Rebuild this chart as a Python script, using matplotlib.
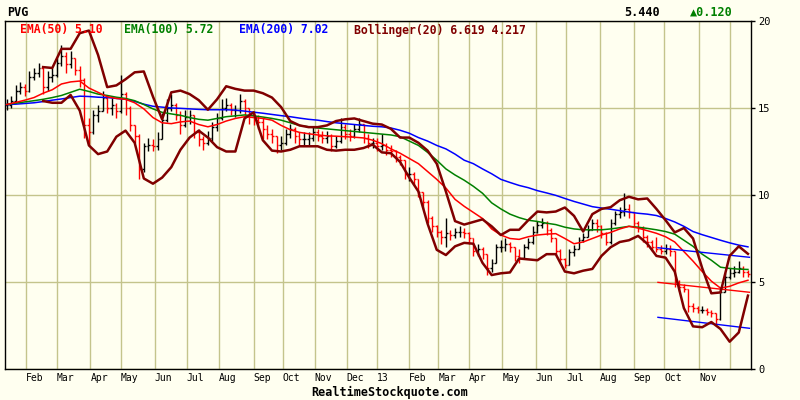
"""
PVG price bars Jan 2012 - Dec 2013 with EMA(50/100/200), Bollinger(20)
and a regression channel over the last quarter.
"""
import numpy as np
import pandas as pd
import matplotlib
matplotlib.use("Agg")
import matplotlib.pyplot as plt

# ── Data ───────────────────────────────────────────────────────────────────────
symbol = "PVG"
last_price = 5.44
price_change = 0.12

market_holidays = [
    "2012-01-16", "2012-02-20", "2012-04-06", "2012-05-28", "2012-07-04",
    "2012-09-03", "2012-10-29", "2012-10-30", "2012-11-22", "2012-12-25",
    "2013-01-01", "2013-01-21", "2013-02-18", "2013-03-29", "2013-05-27",
    "2013-07-04", "2013-09-02", "2013-11-28",
]
sessions = pd.bdate_range("2012-01-12", "2013-12-19", freq="C",
                          holidays=market_holidays)

# one bar per three sessions
bar_close = [
    15.2, 15.4, 16.0, 16.2, 16.0, 16.8, 17.0, 17.3, 16.2, 16.8,
    16.9, 17.6, 18.0, 17.5, 17.9, 17.2, 16.6, 14.0, 13.6, 14.6,
    14.8, 15.6, 15.0, 15.2, 14.8, 15.8, 15.0, 14.0, 13.4, 11.5,
    12.8, 12.9, 12.8, 13.2, 14.3, 15.0, 15.2, 14.6, 14.0, 14.5,
    14.6, 13.6, 13.2, 13.0, 13.3, 13.9, 14.4, 15.0, 15.2, 14.9,
    14.9, 15.4, 15.0, 14.6, 14.3, 14.2, 13.8, 13.5, 13.4, 12.9,
    13.0, 13.5, 13.8, 13.4, 13.2, 13.2, 13.3, 13.6, 13.4, 13.3,
    13.4, 12.8, 13.1, 13.9, 13.5, 13.4, 13.8, 14.1, 13.3, 13.0,
    13.0, 12.8, 12.9, 12.6, 12.5, 12.2, 12.0, 11.2, 11.2, 10.9,
    10.2, 9.6, 8.7, 8.2, 7.9, 7.6, 7.8, 7.7, 7.9, 7.9,
    7.8, 7.5, 6.8, 6.9, 6.6, 5.8, 6.1, 7.0, 7.0, 7.2,
    7.0, 6.5, 6.4, 7.0, 7.3, 7.9, 8.3, 8.4, 8.0, 7.5,
    6.8, 6.3, 6.0, 6.7, 6.9, 7.4, 7.6, 8.0, 8.4, 8.2,
    7.8, 7.3, 8.4, 8.9, 9.0, 9.2, 9.0, 8.4, 8.1, 7.6,
    7.3, 7.0, 6.9, 6.8, 6.9, 6.8, 5.0, 4.7, 4.6, 3.6,
    3.5, 3.4, 3.4, 3.3, 3.2, 2.9, 4.4, 5.3, 5.5, 5.6,
    5.8, 5.6, 5.44,
]
bar_high = [
    15.5, 15.7, 16.3, 16.5, 16.4, 17.1, 17.3, 17.6, 17.4, 17.1,
    17.3, 17.9, 18.6, 18.2, 18.3, 17.9, 17.4, 16.7, 14.4, 14.9,
    15.2, 16.0, 15.7, 15.6, 15.3, 16.9, 15.9, 15.1, 14.0, 13.5,
    13.0, 13.3, 13.2, 13.6, 14.7, 15.5, 15.8, 15.3, 14.8, 14.9,
    14.9, 14.6, 13.8, 13.4, 13.7, 14.2, 14.7, 15.5, 15.6, 15.3,
    15.2, 15.8, 15.5, 15.0, 14.8, 14.6, 14.4, 14.0, 13.8, 13.4,
    13.4, 13.8, 14.1, 13.9, 13.6, 13.6, 13.6, 13.9, 13.8, 13.7,
    13.7, 13.5, 13.4, 14.4, 14.1, 13.8, 14.1, 14.4, 14.1, 13.5,
    13.3, 13.3, 13.5, 13.0, 12.9, 12.6, 12.3, 12.0, 11.6, 11.3,
    10.9, 10.2, 9.7, 8.8, 8.3, 8.0, 8.7, 8.0, 8.1, 8.2,
    8.1, 7.9, 7.5, 7.2, 7.0, 6.6, 6.3, 7.2, 7.4, 7.5,
    7.3, 7.0, 6.9, 7.2, 7.5, 8.2, 8.5, 8.7, 8.5, 8.1,
    7.5, 6.9, 6.4, 6.9, 7.1, 7.6, 7.8, 8.3, 8.6, 8.6,
    8.3, 7.9, 8.6, 9.1, 9.3, 10.1, 9.5, 9.0, 8.5, 8.2,
    7.7, 7.4, 7.6, 7.1, 7.2, 7.1, 6.8, 5.1, 4.9, 4.6,
    3.8, 3.6, 3.6, 3.5, 3.4, 3.2, 4.7, 5.5, 5.8, 5.9,
    6.2, 5.9, 5.7,
]
bar_low = [
    14.9, 15.0, 15.3, 15.8, 15.7, 15.9, 16.6, 16.8, 15.8, 16.0,
    16.5, 16.8, 17.4, 17.0, 17.3, 16.9, 16.2, 13.3, 12.9, 13.5,
    14.2, 14.8, 14.7, 14.6, 14.4, 14.7, 14.6, 13.7, 13.0, 10.9,
    11.3, 12.5, 12.5, 12.6, 13.2, 14.2, 14.8, 14.3, 13.5, 13.9,
    14.1, 13.3, 12.8, 12.6, 12.9, 13.1, 13.7, 14.3, 14.8, 14.6,
    14.5, 14.7, 14.6, 14.1, 14.0, 13.8, 13.2, 13.2, 13.0, 12.4,
    12.6, 12.9, 13.3, 13.0, 12.8, 12.9, 12.9, 13.1, 13.1, 13.0,
    13.0, 12.5, 12.7, 13.0, 13.2, 13.1, 13.3, 13.6, 13.0, 12.7,
    12.7, 12.5, 12.6, 12.3, 12.2, 11.9, 11.7, 10.9, 10.8, 10.6,
    9.9, 9.2, 8.4, 7.9, 7.6, 7.2, 7.0, 7.4, 7.5, 7.6,
    7.5, 7.2, 6.5, 6.5, 6.3, 5.4, 5.6, 6.1, 6.7, 6.8,
    6.7, 6.2, 6.1, 6.3, 6.9, 7.2, 7.8, 8.1, 7.7, 7.3,
    6.6, 6.1, 5.8, 6.0, 6.5, 6.9, 7.3, 7.6, 8.0, 7.9,
    7.5, 7.1, 7.2, 8.3, 8.7, 8.8, 8.7, 8.2, 7.9, 7.3,
    7.0, 6.8, 6.7, 6.6, 6.6, 6.5, 4.7, 4.5, 4.4, 3.3,
    3.3, 3.2, 3.2, 3.1, 3.0, 2.6, 2.8, 4.4, 5.2, 5.3,
    5.5, 5.3, 5.3,
]

# indicator lines, one point per six sessions
ema50 = [
    15.2, 15.32, 15.45, 15.6, 15.85, 16.05, 16.38, 16.5, 16.55, 16.15,
    15.9, 15.65, 15.55, 15.5, 15.3, 14.95, 14.45, 14.15, 14.1, 14.2,
    14.25, 14.05, 13.92, 14.05, 14.25, 14.4, 14.5, 14.45, 14.4, 14.3,
    14.0, 13.75, 13.6, 13.52, 13.45, 13.4, 13.38, 13.35, 13.32, 13.28,
    13.15, 12.95, 12.65, 12.4, 12.1, 11.8, 11.35, 10.9, 10.4, 9.75,
    9.35, 9.0, 8.65, 8.05, 7.7, 7.5, 7.45, 7.6, 7.7, 7.75,
    7.78, 7.5, 7.2, 7.3, 7.5, 7.7, 7.85, 8.05, 8.2, 8.1,
    7.95, 7.8, 7.6, 7.3, 6.75, 6.2, 5.6, 5.05, 4.65, 4.75,
    4.95, 5.10,
]
ema100 = [
    15.2, 15.28, 15.35, 15.42, 15.5, 15.6, 15.72, 15.9, 16.08, 15.95,
    15.8, 15.72, 15.62, 15.55, 15.42, 15.2, 14.95, 14.75, 14.66, 14.58,
    14.45, 14.35, 14.3, 14.4, 14.5, 14.55, 14.6, 14.55, 14.48, 14.4,
    14.3, 14.15, 14.0, 13.92, 13.85, 13.8, 13.75, 13.7, 13.65, 13.6,
    13.55, 13.5, 13.45, 13.35, 13.1, 12.85, 12.45, 12.0, 11.5, 11.15,
    10.85, 10.5, 10.1, 9.55, 9.2, 8.9, 8.7, 8.55, 8.48, 8.38,
    8.3, 8.15, 8.05, 8.0, 8.0, 8.0, 8.05, 8.12, 8.2, 8.15,
    8.08, 8.0, 7.9, 7.75, 7.4, 7.05, 6.6, 6.25, 5.85, 5.78,
    5.74, 5.72,
]
ema200 = [
    15.2, 15.22, 15.26, 15.3, 15.37, 15.45, 15.52, 15.6, 15.68, 15.66,
    15.62, 15.6, 15.55, 15.5, 15.38, 15.22, 15.1, 15.05, 15.0, 14.98,
    14.95, 14.92, 14.9, 14.9, 14.9, 14.88, 14.82, 14.76, 14.7, 14.63,
    14.56, 14.5, 14.42, 14.35, 14.3, 14.22, 14.15, 14.1, 14.05, 14.0,
    13.95, 13.92, 13.85, 13.72, 13.55, 13.3, 13.1, 12.85, 12.65, 12.35,
    12.0, 11.8, 11.5, 11.22, 10.9, 10.72, 10.55, 10.42, 10.25, 10.12,
    9.98, 9.8, 9.63, 9.48, 9.33, 9.25, 9.18, 9.1, 9.02, 8.95,
    8.9, 8.82, 8.65, 8.45, 8.2, 7.9, 7.72, 7.56, 7.4, 7.25,
    7.12, 7.02,
]
nan = np.nan
bb_upper = [
    nan, nan, nan, nan, 17.35, 17.3, 18.4, 18.4, 19.3, 19.45,
    18.05, 16.2, 16.3, 16.65, 17.05, 17.1, 15.65, 14.35, 15.9, 16.0,
    15.8, 15.45, 14.9, 15.5, 16.25, 16.1, 16.0, 16.0, 15.85, 15.6,
    15.05, 14.25, 14.0, 13.9, 13.9, 14.0, 14.25, 14.35, 14.4, 14.25,
    14.1, 14.05, 13.8, 13.3, 13.3, 13.0, 12.55, 11.8, 10.2, 8.5,
    8.3, 8.45, 8.6, 8.2, 7.7, 8.0, 8.0, 8.55, 9.05, 9.0,
    9.05, 9.28, 8.8, 7.9, 8.9, 9.2, 9.3, 9.7, 9.9, 9.75,
    9.8, 9.2, 8.55, 7.85, 8.1, 7.5, 5.8, 4.35, 4.4, 6.5,
    7.05, 6.619,
]
bb_lower = [
    nan, nan, nan, nan, 15.4, 15.3, 15.3, 15.75, 14.85, 12.85,
    12.35, 12.5, 13.35, 13.7, 13.0, 10.95, 10.65, 11.0, 11.6, 12.6,
    13.3, 13.7, 13.3, 12.75, 12.5, 12.5, 14.4, 14.75, 13.15, 12.55,
    12.5, 12.6, 12.8, 12.8, 12.8, 12.6, 12.55, 12.6, 12.6, 12.7,
    12.9, 12.45, 12.4, 11.9, 11.0, 10.2, 8.35, 6.85, 6.55, 7.05,
    7.25, 7.2, 6.1, 5.4, 5.5, 5.55, 6.35, 6.3, 6.25, 6.6,
    6.6, 5.6, 5.5, 5.65, 5.75, 6.5, 7.0, 7.3, 7.4, 7.65,
    7.2, 6.5, 6.4, 5.6, 3.5, 2.45, 2.4, 2.7, 2.3, 1.57,
    2.1, 4.217,
]

# regression channel (start, end values)
channel_start = "2013-09-25"
channel_mid = [4.98, 4.41]
channel_upper = [6.97, 6.42]
channel_lower = [2.97, 2.34]

# ── Style ──────────────────────────────────────────────────────────────────────
BG = "#fffff0"
GRID = "#c4c48c"
RED, GREEN, BLUE, MAROON = "#ff0000", "#008000", "#0000ff", "#800000"
MONO = ["DejaVu Sans Mono", "DejaVu Sans"]
plt.rcParams["font.family"] = MONO

bar_x = np.arange(0, len(sessions), 3)
line_x = bar_x[::2]
close = np.array(bar_close)
bar_open = np.r_[close[0], close[:-1]]
bar_cols = np.where(close >= bar_open, "black", RED)

fig = plt.figure(figsize=(8, 4), dpi=100, facecolor=BG)
ax = fig.add_axes([5 / 800, 31 / 400, 746 / 800, 348 / 400], facecolor=BG)

# price bars
ax.vlines(bar_x, bar_low, bar_high, colors=bar_cols, lw=1.0, zorder=2)
ax.hlines(bar_open, bar_x - 1.2, bar_x, colors=bar_cols, lw=1.0, zorder=2)
ax.hlines(close, bar_x, bar_x + 1.2, colors=bar_cols, lw=1.0, zorder=2)

# moving averages and bands
ax.plot(line_x, ema200, color=BLUE, lw=1.1, zorder=3)
ax.plot(line_x, ema100, color=GREEN, lw=1.1, zorder=3)
ax.plot(line_x, ema50, color=RED, lw=1.1, zorder=3)
ax.plot(line_x, bb_upper, color=MAROON, lw=1.8, zorder=4)
ax.plot(line_x, bb_lower, color=MAROON, lw=1.8, zorder=4)

# regression channel
ch_x = [sessions.get_loc(pd.Timestamp(channel_start)), len(sessions) - 1]
ax.plot(ch_x, channel_mid, color=RED, lw=1.0, zorder=3)
ax.plot(ch_x, channel_upper, color=BLUE, lw=1.0, zorder=3)
ax.plot(ch_x, channel_lower, color=BLUE, lw=1.0, zorder=3)

# month grid / labels
months = sessions.to_period("M")
month_starts = np.flatnonzero(months[1:] != months[:-1]) + 1
month_labels = []
for s in month_starts:
    d = sessions[s]
    lab = d.strftime("%y") if d.month == 1 else d.strftime("%b")
    month_labels.append("" if s > len(sessions) - 20 else lab)

ax.set_xlim(-1, len(sessions))
ax.set_ylim(0, 20)
ax.set_xticks(month_starts)
ax.set_xticklabels(month_labels, ha="left")
ax.set_yticks([0, 5, 10, 15, 20])
ax.yaxis.tick_right()
ax.tick_params(axis="x", length=0, pad=3, labelsize=7)
ax.tick_params(axis="y", length=3, width=1, pad=2, labelsize=7.5)
ax.grid(True, color=GRID, lw=1.0, zorder=1)
ax.set_axisbelow(True)
for sp in ax.spines.values():
    sp.set_color("black")
    sp.set_linewidth(1.0)

# header and legend
yh = 1 - 12 / 400
fig.text(7 / 800, yh, symbol, fontsize=8.5, fontweight="bold", va="center")
fig.text(624 / 800, yh, f"{last_price:.3f}", fontsize=8.5,
         fontweight="bold", va="center")
fig.text(690 / 800, yh, f"\u25b2{price_change:.3f}", fontsize=8.5,
         fontweight="bold", va="center", color=GREEN)

yl = 1 - 30 / 400
legend_items = [
    (20, f"EMA(50) {ema50[-1]:.2f}", RED),
    (124, f"EMA(100) {ema100[-1]:.2f}", GREEN),
    (239, f"EMA(200) {ema200[-1]:.2f}", BLUE),
    (354, f"Bollinger(20) {bb_upper[-1]:.3f} {bb_lower[-1]:.3f}", MAROON),
]
for px, txt, col in legend_items:
    fig.text(px / 800, yl, txt, fontsize=8.3, fontweight="bold",
             color=col, va="center", zorder=10)

fig.text(390 / 800, 1 - 392 / 400, "RealtimeStockquote.com", fontsize=8.5,
         fontweight="bold", ha="center", va="center")

fig.savefig("out.png", dpi=100, facecolor=BG)
